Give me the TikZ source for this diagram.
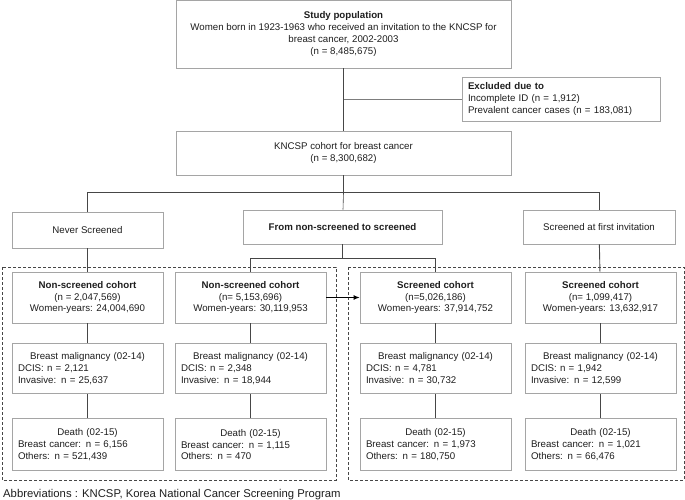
\documentclass[tikz,border=0pt]{standalone}
\usepackage{fontspec}
\setmainfont{Liberation Sans}
\usetikzlibrary{arrows.meta, positioning}
\definecolor{boxgray}{RGB}{165, 165, 165}
\definecolor{linegray}{RGB}{70, 70, 70}
\definecolor{textgray}{RGB}{30, 30, 30}
\newcommand{\ctrline}[1]{\makebox[\linewidth][c]{#1}}

\begin{document}
\begin{tikzpicture}[
    x=1pt, y=-1pt,
    font=\fontsize{9.7}{11.7}\selectfont, text=textgray,
    node distance=20pt,
    mainbox/.style={
        draw=boxgray, line width=0.8pt, align=center, inner sep=0pt
    },
    cohortbox/.style={
        mainbox, minimum width=151pt, minimum height=51pt
    },
    listbox/.style={
        draw=boxgray, line width=0.8pt, align=left,
        minimum width=151pt, minimum height=50pt,
        text width=139pt, inner xsep=6pt, inner ysep=0pt
    },
    link/.style={linegray, line width=0.9pt},
    dashbox/.style={draw=linegray, line width=0.8pt, dash pattern=on 3pt off 2pt}
]
\useasboundingbox (0,0) rectangle (685,500);

% STUDY POPULATION - top
\node[mainbox, minimum width=335pt, minimum height=68pt] (study) at (343.5,34) {
    \textbf{Study population}\\
    Women born in 1923-1963 who received an invitation to the KNCSP for\\
    breast cancer, 2002-2003\\
    (n = 8,485,675)
};

% EXCLUDED - right
\node[listbox, minimum width=198pt, minimum height=44pt, text width=186pt] (excl) at (561,99) {
    \textbf{Excluded due to}\\
    Incomplete ID (n = 1,912)\\
    Prevalent cancer cases (n = 183,081)
};

% COHORT
\node[mainbox, minimum width=335pt, minimum height=44pt] (kncsp) at (343.5,153) {
    KNCSP cohort for breast cancer\\
    (n = 8,300,682)
};

% Screening groups
\node[mainbox, minimum width=151pt, minimum height=36pt] (never) at (87.5,230) {Never Screened};
\node[mainbox, minimum width=199pt, minimum height=34pt] (mid) at (342.5,227) {\textbf{From non-screened to screened}};
\node[mainbox, minimum width=152pt, minimum height=34pt] (first) at (599,227) {Screened at first invitation};

% Cohorts
\node[cohortbox] (c1) at (87.5,297.5) {\textbf{Non-screened cohort}\\(n = 2,047,569)\\Women-years: 24,004,690};
\node[cohortbox] (c2) at (250.5,297.5) {\textbf{Non-screened cohort}\\(n= 5,153,696)\\Women-years: 30,119,953};
\node[cohortbox] (c3) at (435.5,297.5) {\textbf{Screened cohort}\\(n=5,026,186)\\Women-years: 37,914,752};
\node[cohortbox] (c4) at (600.5,297.5) {\textbf{Screened cohort}\\(n= 1,099,417)\\Women-years: 13,632,917};

% Breast malignancy
\node[listbox, below=of c1] (b1) {\ctrline{Breast malignancy (02-14)}\\DCIS: n = 2,121\\Invasive: n = 25,637};
\node[listbox, below=of c2] (b2) {\ctrline{Breast malignancy (02-14)}\\DCIS: n = 2,348\\Invasive: n = 18,944};
\node[listbox, below=of c3] (b3) {\ctrline{Breast malignancy (02-14)}\\DCIS: n = 4,781\\Invasive: n = 30,732};
\node[listbox, below=of c4] (b4) {\ctrline{Breast malignancy (02-14)}\\DCIS: n = 1,942\\Invasive: n = 12,599};

% Death
\node[listbox, minimum height=52pt, below=24pt of b1] (d1) {\ctrline{Death (02-15)}\\Breast cancer: n = 6,156\\Others: n = 521,439};
\node[listbox, minimum height=52pt, below=24pt of b2] (d2) {\ctrline{Death (02-15)}\\Breast cancer: n = 1,115\\Others: n = 470};
\node[listbox, minimum height=52pt, below=24pt of b3] (d3) {\ctrline{Death (02-15)}\\Breast cancer: n = 1,973\\Others: n = 180,750};
\node[listbox, minimum height=52pt, below=24pt of b4] (d4) {\ctrline{Death (02-15)}\\Breast cancer: n = 1,021\\Others: n = 66,476};

% Dashed groups
\draw[dashbox] (2,267) rectangle (336,480);
\draw[dashbox] (348,267) rectangle (684,480);

% Trunk
\draw[link] (study) -- (kncsp);
\coordinate (excljoin) at (study.south |- excl.west);
\draw[link, line width=0.6pt, linegray!70] (excljoin) -- (excl.west);

\coordinate[below=17pt of kncsp.south] (split);
\draw[link] (kncsp) -- (split);
\draw[link] (split) -| (never);
\draw[link] (split) -| (first);
\draw[link, line width=0.6pt] (split) -- (mid);

\coordinate[below=14pt of mid.south] (split2);
\draw[link] (mid) -- (split2);
\draw[link] (split2) -| (c2);
\draw[link] (split2) -| (c3);

\draw[link] (never) -- (c1);
\draw[link] (first) -- (c4);

\foreach \i in {1,...,4} {
    \draw[link] (c\i) -- (b\i);
    \draw[link] (b\i) -- (d\i);
}

% Switch from non-screened to screened
\draw[link, black, -{Latex[length=6pt, width=5pt]}] (c2) -- (c3);

% Footnote
\node[anchor=west, inner sep=0pt, font=\fontsize{11.3}{13}\selectfont] (abbrev) at (3,495)
    {Abbreviations : KNCSP, Korea National Cancer Screening Program};

\end{tikzpicture}
\end{document}
